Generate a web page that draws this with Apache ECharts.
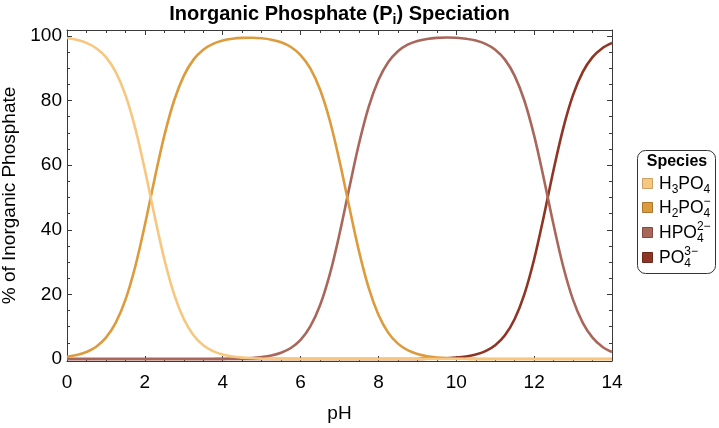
<!DOCTYPE html>
<html>
<head>
<meta charset="utf-8">
<title>Inorganic Phosphate Speciation</title>
<script src="https://cdn.jsdelivr.net/npm/echarts@6/dist/echarts.min.js"></script>
<style>
  html, body { margin: 0; padding: 0; background: #fff; }
  #main { width: 719px; height: 428px; }
</style>
</head>
<body>
<div id="main"></div>
<script>
// values, every 0.25 pH unit
var pH = [0, 0.25, 0.5, 0.75, 1, 1.25, 1.5, 1.75, 2, 2.25, 2.5, 2.75, 3, 3.25, 3.5, 3.75,
  4, 4.25, 4.5, 4.75, 5, 5.25, 5.5, 5.75, 6, 6.25, 6.5, 6.75, 7, 7.25, 7.5, 7.75,
  8, 8.25, 8.5, 8.75, 9, 9.25, 9.5, 9.75, 10, 10.25, 10.5, 10.75, 11, 11.25, 11.5, 11.75,
  12, 12.25, 12.5, 12.75, 13, 13.25, 13.5, 13.75, 14];

var h3po4 = [99.30, 98.76, 97.81, 96.17, 93.39, 88.82, 81.71, 71.53, 58.55, 44.27, 30.88, 20.08, 12.38, 7.36, 4.28, 2.45,
  1.39, 0.79, 0.45, 0.25, 0.14, 0.08, 0.04, 0.02, 0.01, 0, 0, 0, 0, 0, 0, 0,
  0, 0, 0, 0, 0, 0, 0, 0, 0, 0, 0, 0, 0, 0, 0, 0,
  0, 0, 0, 0, 0, 0, 0, 0, 0];

var h2po4 = [0.70, 1.24, 2.19, 3.83, 6.61, 11.18, 18.29, 28.47, 41.45, 55.73, 69.12, 79.92, 87.62, 92.64, 95.70, 97.51,
  98.55, 99.10, 99.35, 99.40, 99.23, 98.81, 98.00, 96.55, 94.06, 89.91, 83.37, 73.81, 61.31, 47.12, 33.39, 21.99,
  13.68, 8.18, 4.77, 2.74, 1.56, 0.88, 0.50, 0.28, 0.16, 0.09, 0.05, 0.03, 0.01, 0, 0, 0,
  0, 0, 0, 0, 0, 0, 0, 0, 0];

var hpo4 = [0, 0, 0, 0, 0, 0, 0, 0, 0, 0, 0, 0, 0, 0, 0.02, 0.04,
  0.06, 0.11, 0.20, 0.35, 0.63, 1.11, 1.96, 3.43, 5.93, 10.09, 16.63, 26.19, 38.69, 52.88, 66.61, 78.01,
  86.32, 91.82, 95.23, 97.26, 98.40, 99.04, 99.36, 99.47, 99.40, 99.12, 98.56, 97.52, 95.71, 92.63, 87.62, 79.92,
  69.12, 55.73, 41.45, 28.47, 18.29, 11.18, 6.61, 3.83, 2.19];

var po4 = [0, 0, 0, 0, 0, 0, 0, 0, 0, 0, 0, 0, 0, 0, 0, 0,
  0, 0, 0, 0, 0, 0, 0, 0, 0, 0, 0, 0, 0, 0, 0, 0,
  0, 0, 0, 0, 0.04, 0.08, 0.14, 0.25, 0.44, 0.79, 1.39, 2.45, 4.28, 7.36, 12.38, 20.08,
  30.88, 44.27, 58.55, 71.53, 81.71, 88.82, 93.39, 96.17, 97.81];

var yTicks = [0, 20, 40, 60, 80, 100];
var yMinorTicks = [5, 10, 15, 25, 30, 35, 45, 50, 55, 65, 70, 75, 85, 90, 95];

var colors = ['#f8c77f', '#dc9b3d', '#a9675b', '#8f3525'];
var edges = ['#c9a066', '#a8762e', '#7d4b42', '#6a271b'];
var values = [h3po4, h2po4, hpo4, po4];

var FONT = '"Liberation Sans", Arial, Helvetica, sans-serif';
var AXIS = '#3a3a3a';

// text with sub/superscripts, built from pieces
var ctx = document.createElement('canvas').getContext('2d');
function measure(str, size, weight) {
  ctx.font = weight + ' ' + size + 'px ' + FONT;
  return ctx.measureText(str).width;
}
function label(parts, x, y, size, weight, center) {
  var small = Math.round(size * 0.7);
  var items = [];
  var widths = parts.map(function (p) {
    if (p.sub !== undefined || p.sup !== undefined) {
      return Math.max(p.sub ? measure(p.sub, small, weight) : 0, p.sup ? measure(p.sup, small, weight) : 0);
    }
    return measure(p.t, size, weight);
  });
  var total = widths.reduce(function (a, b) { return a + b; }, 0);
  var cx = center ? x - total / 2 : x;
  function txt(s, px, py, fs) {
    items.push({
      type: 'text', x: px, y: py, silent: true,
      style: {
        text: s, fontSize: fs, fontFamily: FONT, fontWeight: weight, fill: '#000',
        align: 'left', verticalAlign: 'middle', textAlign: 'left', textVerticalAlign: 'middle'
      }
    });
  }
  parts.forEach(function (p, i) {
    if (p.t !== undefined) txt(p.t, cx, y, size);
    if (p.sub) txt(p.sub, cx, y + size * 0.3, small);
    if (p.sup) txt(p.sup, cx, y - size * 0.36, small);
    cx += widths[i];
  });
  return items;
}

var names = ['H3PO4', 'H2PO4-', 'HPO4 2-', 'PO4 3-'];
var legendText = [
  [{ t: 'H' }, { sub: '3' }, { t: 'PO' }, { sub: '4' }],
  [{ t: 'H' }, { sub: '2' }, { t: 'PO' }, { sub: '4', sup: '\u2212' }],
  [{ t: 'HPO' }, { sub: '4', sup: '2\u2212' }],
  [{ t: 'PO' }, { sub: '4', sup: '3\u2212' }]
];
var legendRows = [184, 208, 233, 258];

var graphics = [];
graphics = graphics.concat(label([{ t: 'Inorganic Phosphate (P' }, { sub: 'i' }, { t: ') Speciation' }],
  339.5, 14, 20, 'bold', true));
graphics.push({
  type: 'rect', shape: { x: 637.5, y: 150.5, width: 78, height: 123, r: 8 },
  style: { fill: '#fff', stroke: '#333', lineWidth: 1 }, silent: true
});
graphics = graphics.concat(label([{ t: 'Species' }], 677, 162, 16, 'bold', true));
legendRows.forEach(function (ry, i) {
  graphics.push({
    type: 'rect', shape: { x: 642.5, y: ry - 5.5, width: 10, height: 10 },
    style: { fill: colors[i], stroke: edges[i], lineWidth: 1 }, silent: true
  });
  graphics = graphics.concat(label(legendText[i], 659, ry, 17.5, 'normal', false));
});

function axisX(pos, show) {
  return {
    type: 'value', min: 0, max: 14, interval: 2, position: pos,
    axisLine: { show: true, onZero: false, lineStyle: { color: AXIS, width: 1 } },
    axisTick: { show: true, inside: true, length: 5, lineStyle: { color: AXIS } },
    minorTick: { show: true, splitNumber: 4, length: 3, lineStyle: { color: AXIS } },
    axisLabel: { show: show, fontSize: 19, color: '#000', fontFamily: FONT, margin: 12 },
    splitLine: { show: false }, minorSplitLine: { show: false },
    name: show ? 'pH' : '', nameLocation: 'middle', nameGap: 43,
    nameTextStyle: { fontSize: 19, color: '#000', fontFamily: FONT }
  };
}
function axisY(pos, ticks, len, show, line) {
  return {
    type: 'value', min: -0.6, max: 101.8, position: pos,
    axisLine: { show: line, onZero: false, lineStyle: { color: AXIS, width: 1 } },
    axisTick: { show: true, inside: true, length: len, customValues: ticks, lineStyle: { color: AXIS } },
    axisLabel: { show: show, customValues: ticks, fontSize: 19, color: '#000', fontFamily: FONT, margin: 5 },
    splitLine: { show: false },
    name: show ? '% of Inorganic Phosphate' : '', nameLocation: 'middle', nameGap: 40, nameRotate: 90,
    nameTextStyle: { fontSize: 19, color: '#000', fontFamily: FONT }
  };
}

var chart = echarts.init(document.getElementById('main'));
chart.setOption({
  animation: false,
  backgroundColor: '#fff',
  grid: { left: 67, right: 107, top: 30, bottom: 67, containLabel: false, outerBoundsMode: 'none' },
  xAxis: [axisX('bottom', true), axisX('top', false)],
  yAxis: [
    axisY('left', yTicks, 5, true, true),
    axisY('left', yMinorTicks, 3, false, false),
    axisY('right', yTicks, 5, false, true),
    axisY('right', yMinorTicks, 3, false, false)
  ],
  series: values.map(function (vals, i) {
    return {
      name: names[i],
      type: 'line',
      xAxisIndex: 0,
      yAxisIndex: 0,
      data: pH.map(function (x, k) { return [x, vals[k]]; }),
      showSymbol: false,
      smooth: 0.35,
      z: 6 - i,
      lineStyle: { width: 2.6, color: colors[i] },
      itemStyle: { color: colors[i] }
    };
  }),
  graphic: graphics
});
</script>
</body>
</html>
